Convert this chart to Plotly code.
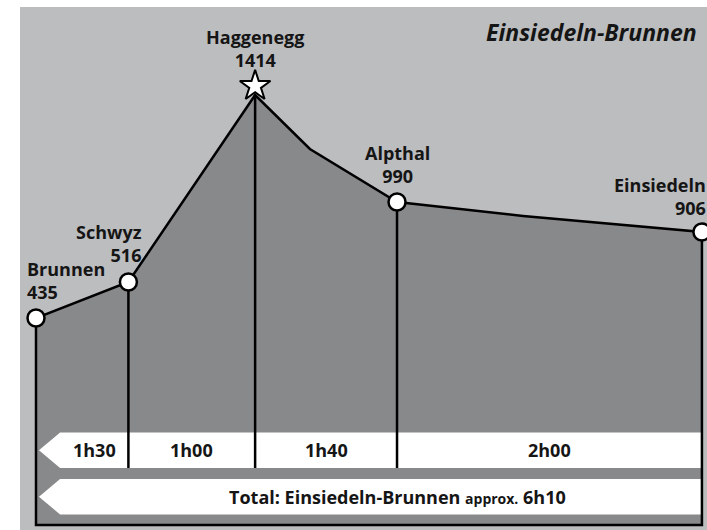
import plotly.graph_objects as go

# ---------------- data ----------------
stations = ["Brunnen", "Schwyz", "Haggenegg", "Alpthal", "Einsiedeln"]
elevations = [435, 516, 1414, 990, 906]
# schematic profile (distance along route, drawing height)
profile_km = [0.0, 2.8, 6.64, 8.3, 10.94, 14.76, 20.18]
profile_h = [207, 243, 430, 376, 323, 309, 293]
station_idx = [0, 1, 2, 4, 6]
segment_times = ["1h30", "1h00", "1h40", "2h00"]
total_text = "Total: Einsiedeln-Brunnen"
total_approx = "approx."
total_time = "6h10"
title_text = "Einsiedeln-Brunnen"

# ---------------- style ----------------
BG_LIGHT = "#bcbdbf"
FILL_DARK = "#88898b"
INK = "#151515"
FONT = "Open Sans"
LW = 2.5

# band geometry (drawing units)
band1 = (57, 92.5)
band2 = (10.5, 46)
tip_x, shoulder_x = 0.09, 0.73

sx = [profile_km[i] for i in station_idx]
sy = [profile_h[i] for i in station_idx]
x_left, x_right = profile_km[0], profile_km[-1]

fig = go.Figure()

# filled profile
fig.add_trace(go.Scatter(
    x=[x_left] + profile_km + [x_right, x_left],
    y=[0] + profile_h + [0, 0],
    fill="toself", fillcolor=FILL_DARK, line=dict(width=0),
    mode="lines", hoverinfo="skip"))


def band(y0, y1):
    ym = (y0 + y1) / 2
    return go.Scatter(
        x=[tip_x, shoulder_x, x_right, x_right, shoulder_x, tip_x],
        y=[ym, y1, y1, y0, y0, ym],
        fill="toself", fillcolor="white", line=dict(width=0),
        mode="lines", hoverinfo="skip")


fig.add_trace(band(*band1))
fig.add_trace(band(*band2))

# vertical station lines (interior stations) down to band 1 bottom
vx, vy = [], []
for x, y in zip(sx[1:-1], sy[1:-1]):
    vx += [x, x, None]
    vy += [y, band1[0], None]
fig.add_trace(go.Scatter(x=vx, y=vy, mode="lines",
                         line=dict(color="black", width=LW), hoverinfo="skip"))

# outline
fig.add_trace(go.Scatter(
    x=[x_left] + profile_km + [x_right, x_left, x_left],
    y=[0] + profile_h + [0, 0, profile_h[0]],
    mode="lines", line=dict(color="black", width=LW), hoverinfo="skip"))

# station markers
circ_x = [x for x, n in zip(sx, stations) if n != "Haggenegg"]
circ_y = [y for y, n in zip(sy, stations) if n != "Haggenegg"]
fig.add_trace(go.Scatter(x=circ_x, y=circ_y, mode="markers",
                         marker=dict(symbol="circle", size=17, color="white",
                                     line=dict(color="black", width=LW)),
                         hoverinfo="skip", cliponaxis=False))
peak = stations.index("Haggenegg")
fig.add_trace(go.Scatter(x=[sx[peak]], y=[sy[peak] + 9], mode="markers",
                         marker=dict(symbol="star", size=23, color="white",
                                     line=dict(color="black", width=2)),
                         hoverinfo="skip"))

# station labels
lab_font = dict(family=FONT, size=18, color=INK, weight="bold")
placements = {
    "Brunnen": dict(xanchor="left", align="left", xshift=-11, yshift=12),
    "Schwyz": dict(xanchor="right", align="right", xshift=16, yshift=13),
    "Haggenegg": dict(xanchor="center", align="center", xshift=0, yshift=21),
    "Alpthal": dict(xanchor="center", align="center", xshift=0, yshift=12),
    "Einsiedeln": dict(xanchor="right", align="right", xshift=6, yshift=10),
}
for n, e, x, y in zip(stations, elevations, sx, sy):
    p = placements[n]
    fig.add_annotation(x=x, y=y, text=f"{n}<br>{e}", showarrow=False,
                       yanchor="bottom", font=lab_font, **p)

# segment times
seg_bounds = [shoulder_x] + sx[1:]
for i, t in enumerate(segment_times):
    fig.add_annotation(x=(seg_bounds[i] + seg_bounds[i + 1]) / 2,
                       y=sum(band1) / 2, text=t, showarrow=False,
                       font=lab_font, yanchor="middle")

# total
fig.add_annotation(
    x=10.94, y=sum(band2) / 2,
    text=f"{total_text} <span style='font-size:14px'>{total_approx}</span> {total_time}",
    showarrow=False, font=lab_font, yanchor="middle")

# title
fig.add_annotation(xref="paper", yref="paper", x=0.988, y=0.94, text=f"<i>{title_text}</i>",
                   showarrow=False, xanchor="right", yanchor="middle",
                   font=dict(family=FONT, size=23, color=INK, weight="bold"))

# background panel
fig.add_shape(type="rect", xref="paper", yref="paper", x0=20 / 707, x1=1, y0=0,
              y1=1 - 7 / 530, fillcolor=BG_LIGHT, line=dict(width=0), layer="below")

fig.update_layout(
    width=707, height=530, margin=dict(l=0, r=0, t=0, b=0),
    paper_bgcolor="white", plot_bgcolor="rgba(0,0,0,0)", showlegend=False,
    xaxis=dict(range=[-36 / 33, 671 / 33], visible=False, fixedrange=True),
    yaxis=dict(range=[-5, 525], visible=False, fixedrange=True),
)

fig.write_html("out.html", config={"displayModeBar": False},
               post_script="document.body.style.margin='0';document.body.style.overflow='hidden';")
